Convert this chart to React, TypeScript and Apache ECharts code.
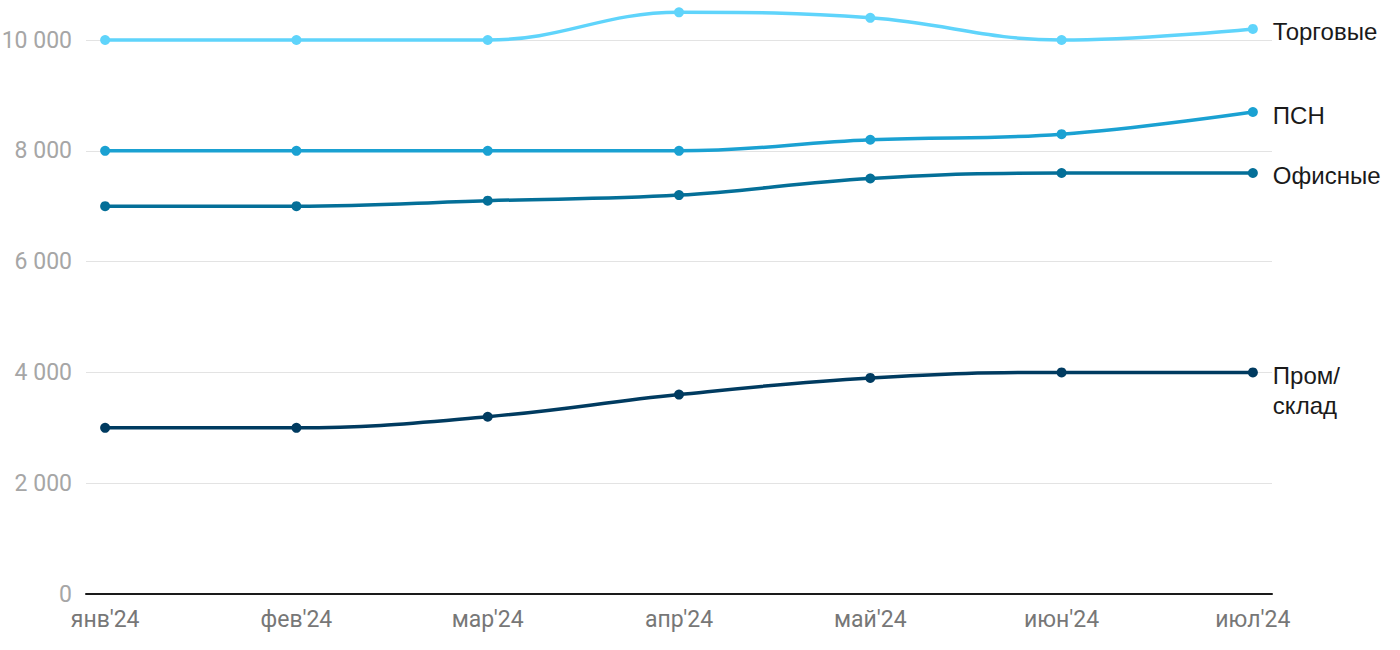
import React, { useEffect, useRef } from "react";
import * as echarts from "echarts";

const months = ["янв'24", "фев'24", "мар'24", "апр'24", "май'24", "июн'24", "июл'24"];
const trade = [10000, 10000, 10000, 10500, 10400, 10000, 10200];
const psn = [8000, 8000, 8000, 8000, 8200, 8300, 8700];
const office = [7000, 7000, 7100, 7200, 7500, 7600, 7600];
const industrial = [3000, 3000, 3200, 3600, 3900, 4000, 4000];
const yTicks = [0, 2000, 4000, 6000, 8000, 10000];

const seriesDefs = [
  { name: "Торговые", label: "Торговые", data: trade, color: "#5fd4fb" },
  { name: "ПСН", label: "ПСН", data: psn, color: "#1aa1d2" },
  { name: "Офисные", label: "Офисные", data: office, color: "#046f98" },
  { name: "Пром/склад", label: "Пром/\nсклад", data: industrial, color: "#003b60" },
];

export default function App() {
  const ref = useRef<HTMLDivElement>(null);
  useEffect(() => {
    if (!ref.current) return;
    const chart = echarts.init(ref.current, undefined, { renderer: "svg" });
    chart.setOption({
      animation: false,
      grid: { left: 86, right: 128, top: 40, bottom: 56, containLabel: false, outerBoundsMode: "none" },
      xAxis: {
        type: "value",
        min: -0.1,
        max: 6.1,
        axisLine: { show: true, onZero: false, lineStyle: { color: "#1a1a1a", width: 2 } },
        axisTick: { show: false },
        splitLine: { show: false },
        axisLabel: {
          customValues: months.map((_, i) => i),
          formatter: (v: number) => months[Math.round(v)] ?? "",
          color: "#777777",
          fontFamily: "Roboto",
          fontSize: 23,
          margin: 14,
        },
      },
      yAxis: {
        type: "value",
        min: 0,
        max: 10000,
        interval: 2000,
        axisLine: { show: false },
        axisTick: { show: false },
        splitLine: { lineStyle: { color: "#e3e3e3", width: 1 } },
        axisLabel: {
          customValues: yTicks,
          formatter: (v: number) => String(v).replace(/\B(?=(\d{3})+(?!\d))/g, " "),
          color: "#a6a6a6",
          fontFamily: "Roboto",
          fontSize: 23,
          margin: 14,
        },
      },
      series: seriesDefs.map((s) => ({
        name: s.name,
        type: "line",
        data: s.data.map((v, i) => [i, v]),
        smooth: 0.4,
        clip: false,
        symbol: "circle",
        symbolSize: 10,
        color: s.color,
        lineStyle: { width: 3.5, color: s.color },
        itemStyle: { color: s.color },
        endLabel: {
          show: true,
          formatter: () => s.label,
          color: "#1a1a1a",
          fontFamily: "Liberation Sans, Arial, sans-serif",
          fontSize: 24,
          lineHeight: 30,
          distance: 20,
          align: "left",
          verticalAlign: s.name === "Пром/склад" ? "top" : "middle",
          offset: s.name === "Пром/склад" ? [0, -12] : [0, 3],
        },
      })),
    });
    return () => chart.dispose();
  }, []);
  return (
    <div
      ref={ref}
      style={{ position: "fixed", left: 0, top: 0, width: 1400, height: 650, background: "#ffffff" }}
    />
  );
}
